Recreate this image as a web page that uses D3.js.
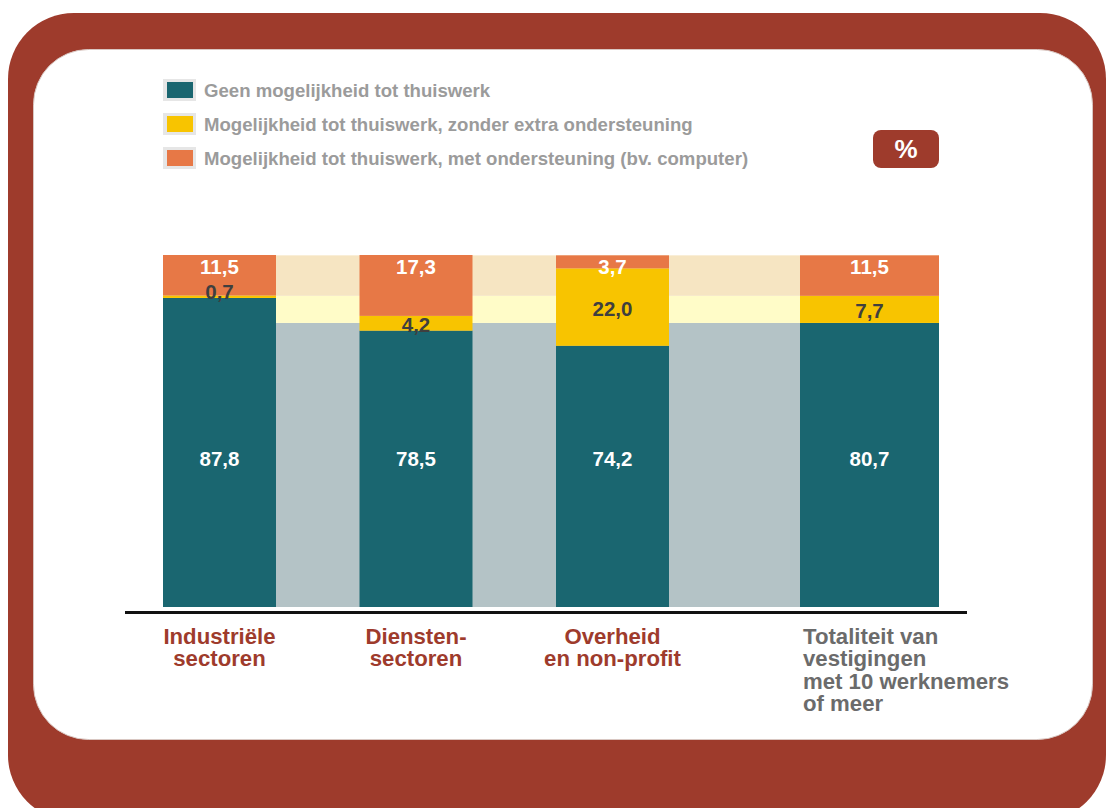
<!DOCTYPE html>
<html>
<head>
<meta charset="utf-8">
<script src="https://cdn.jsdelivr.net/npm/d3@7"></script>
<style>
  html, body { margin: 0; padding: 0; background: #fff; }
  svg { display: block; font-family: "Liberation Sans", Arial, sans-serif; }
</style>
</head>
<body>
<div id="chart"></div>
<script>
// chart data
const categories = ["Industriële sectoren", "Diensten-sectoren", "Overheid en non-profit", "Totaliteit van vestigingen met 10 werknemers of meer"];
const categoryLines = [
  ["Industriële", "sectoren"],
  ["Diensten-", "sectoren"],
  ["Overheid", "en non-profit"],
  ["Totaliteit van", "vestigingen", "met 10 werknemers", "of meer"]
];
const seriesNames = [
  "Geen mogelijkheid tot thuiswerk",
  "Mogelijkheid tot thuiswerk, zonder extra ondersteuning",
  "Mogelijkheid tot thuiswerk, met ondersteuning (bv. computer)"
];
const geen = [87.8, 78.5, 74.2, 80.7];
const zonder = [0.7, 4.2, 22.0, 7.7];
const met = [11.5, 17.3, 3.7, 11.5];

const W = 1107, H = 808;
const red = "#9e3b2c";
const colors = ["#1a6670", "#f8c400", "#e77846"];
const bandColors = ["#b4c3c6", "#fffcc8", "#f6e5c2"];
const labelColors = ["#ffffff", "#3f3f3f", "#ffffff"];

const svg = d3.select("#chart").append("svg")
  .attr("width", W)
  .attr("height", H);

// frame
svg.append("rect")
  .attr("x", 8).attr("y", 13)
  .attr("width", 1098).attr("height", 808)
  .attr("rx", 66).attr("ry", 66)
  .attr("fill", red);
svg.append("rect")
  .attr("x", 33.5).attr("y", 49.5)
  .attr("width", 1059).attr("height", 690)
  .attr("rx", 55).attr("ry", 55)
  .attr("fill", "#fff")
  .attr("stroke", "#d9c7c2")
  .attr("stroke-width", 1);

// legend
const legend = svg.append("g").attr("transform", "translate(163, 90)");
const row = legend.selectAll("g").data(seriesNames).join("g")
  .attr("transform", (d, i) => `translate(0, ${i * 34})`);
row.append("rect")
  .attr("x", 0).attr("y", -11).attr("width", 33).attr("height", 22)
  .attr("fill", "#e6e6e6");
row.append("rect")
  .attr("x", 4).attr("y", -8).attr("width", 26).attr("height", 16)
  .attr("fill", (d, i) => colors[i]);
row.append("text")
  .attr("x", 41).attr("y", 0).attr("dy", "0.35em")
  .attr("font-size", 18.6).attr("font-weight", "bold")
  .attr("fill", "#9b9b9b")
  .text(d => d);

// % badge
svg.append("rect")
  .attr("x", 873).attr("y", 130).attr("width", 66).attr("height", 38)
  .attr("rx", 8).attr("fill", red);
svg.append("text")
  .attr("x", 906).attr("y", 149).attr("dy", "0.35em")
  .attr("text-anchor", "middle")
  .attr("font-size", 26).attr("font-weight", "bold")
  .attr("fill", "#fff")
  .text("%");

// scales
const y = d3.scaleLinear().domain([0, 100]).range([607, 255]);
const xSector = d3.scaleBand().domain(categories.slice(0, 3)).range([163, 669]).paddingInner(0.425);
const xTotal = d3.scaleBand().domain(categories.slice(3)).range([800, 939]);
const xOf = c => xSector.domain().includes(c) ? xSector(c) : xTotal(c);
const bwOf = c => xSector.domain().includes(c) ? xSector.bandwidth() : xTotal.bandwidth();

const table = categories.map((c, i) => ({ cat: c, s0: geen[i], s1: zonder[i], s2: met[i] }));
const stack = d3.stack().keys(["s0", "s1", "s2"]);
const series = stack(table);

// background bands = totals across the whole plot
const totalIdx = categories.length - 1;
const bandLeft = xOf(categories[0]);
const bandRight = xOf(categories[totalIdx]) + bwOf(categories[totalIdx]);
svg.append("g").selectAll("rect").data(series).join("rect")
  .attr("x", bandLeft)
  .attr("width", bandRight - bandLeft)
  .attr("y", s => y(s[totalIdx][1]))
  .attr("height", s => y(s[totalIdx][0]) - y(s[totalIdx][1]))
  .attr("fill", (s, i) => bandColors[i]);

// bars
const layers = svg.append("g").selectAll("g").data(series).join("g")
  .attr("fill", (s, i) => colors[i]);
layers.selectAll("rect").data(s => s).join("rect")
  .attr("x", d => xOf(d.data.cat))
  .attr("width", d => bwOf(d.data.cat))
  .attr("y", d => y(d[1]))
  .attr("height", d => y(d[0]) - y(d[1]));

// value labels
const fmt = v => d3.format(".1f")(v).replace(".", ",");
const labelY = [
  d => y(42),
  d => (d[1] - d[0] < 2) ? y(d[1]) - 4 : (y(d[0]) + y(d[1])) / 2 + 1.5,
  d => y(100) + 12
];
series.forEach((s, k) => {
  svg.append("g").selectAll("text").data(s).join("text")
    .attr("x", d => xOf(d.data.cat) + bwOf(d.data.cat) / 2)
    .attr("y", d => labelY[k](d))
    .attr("dy", "0.35em")
    .attr("text-anchor", "middle")
    .attr("font-size", 20.5).attr("font-weight", "bold")
    .attr("fill", labelColors[k])
    .text(d => fmt(d[1] - d[0]));
});

// baseline
svg.append("line")
  .attr("x1", 125).attr("x2", 967)
  .attr("y1", 612.5).attr("y2", 612.5)
  .attr("stroke", "#111").attr("stroke-width", 3);

// category labels
categories.forEach((c, i) => {
  const isTotal = i === totalIdx;
  const t = svg.append("text")
    .attr("font-size", 22.2).attr("font-weight", "bold")
    .attr("fill", isTotal ? "#6b6b6b" : red)
    .attr("text-anchor", isTotal ? "start" : "middle");
  const x0 = isTotal ? xOf(c) + 3 : xOf(c) + bwOf(c) / 2;
  categoryLines[i].forEach((line, j) => {
    t.append("tspan")
      .attr("x", x0)
      .attr("y", 644 + j * 22.3)
      .text(line);
  });
});
</script>
</body>
</html>
